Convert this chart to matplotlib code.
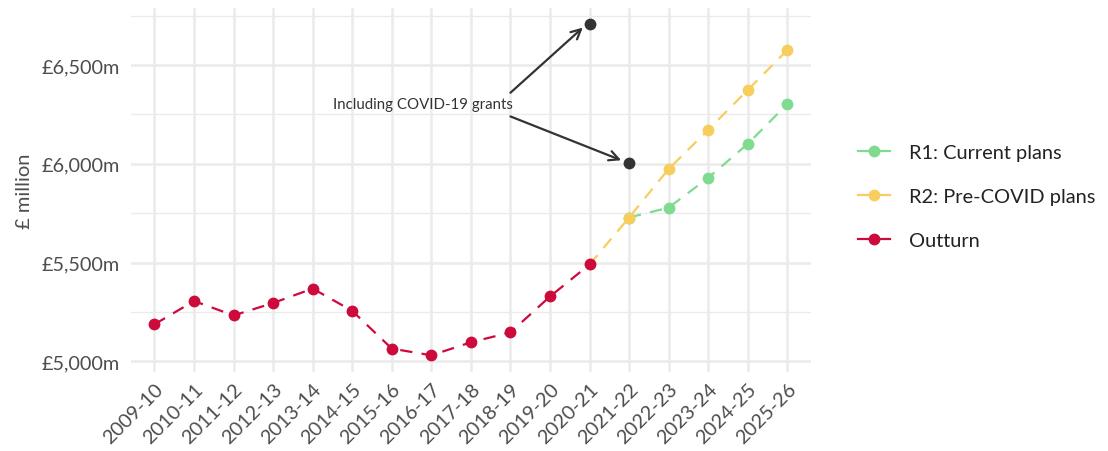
import matplotlib
matplotlib.use("Agg")
import matplotlib.pyplot as plt
from matplotlib.lines import Line2D
from matplotlib.ticker import FixedLocator

plt.rcParams['font.family'] = ['Lato', 'DejaVu Sans']

years = ["2009-10", "2010-11", "2011-12", "2012-13", "2013-14", "2014-15", "2015-16",
         "2016-17", "2017-18", "2018-19", "2019-20", "2020-21", "2021-22", "2022-23",
         "2023-24", "2024-25", "2025-26"]

outturn_years = years[:12]
outturn = [5187, 5305, 5232, 5295, 5368, 5255, 5064, 5030, 5096, 5146, 5328, 5490]

r2_years = years[11:]
r2_pre_covid = [5490, 5728, 5974, 6172, 6374, 6576]

r1_years = years[12:]
r1_current = [5728, 5778, 5929, 6101, 6303]

covid_years = ["2020-21", "2021-22"]
covid_grants = [6707, 6005]

yticks = [5000, 5500, 6000, 6500]
yticklabels = ["£5,000m", "£5,500m", "£6,000m", "£6,500m"]
yminor = [5250, 5750, 6250, 6750]

col_red = "#cc0a3c"
col_yel = "#f7cd5d"
col_grn = "#7edb8f"
col_blk = "#333333"

idx = {y: i for i, y in enumerate(years)}

fig = plt.figure(figsize=(11.08, 4.52), dpi=100)
ax = fig.add_axes([0.118, 0.175, 0.614, 0.805])

lw = 1.6
dash = (5.5, 4.2)
ms = 8.5

ax.plot([idx[y] for y in r1_years], r1_current, color=col_grn, lw=lw, dashes=dash,
        marker='o', ms=ms, mec='none', zorder=3)
ax.plot([idx[y] for y in r2_years], r2_pre_covid, color=col_yel, lw=lw, dashes=dash,
        marker='o', ms=ms, mec='none', zorder=4)
ax.plot([idx[y] for y in outturn_years], outturn, color=col_red, lw=lw, dashes=dash,
        marker='o', ms=ms, mec='none', zorder=5)
ax.plot([idx[y] for y in covid_years], covid_grants, color=col_blk, lw=0,
        marker='o', ms=ms, mec='none', zorder=6)

# annotation
tx, ty = 9.05, 6303
ax.text(tx, ty, "Including COVID-19 grants", ha='right', va='center',
        fontsize=10.8, color=col_blk)
ax.annotate("", xy=(idx["2020-21"] - 0.17, 6690), xytext=(9.0, 6360),
            arrowprops=dict(arrowstyle='->,head_length=0.7,head_width=0.35',
                            color=col_blk, lw=1.6, shrinkA=0, shrinkB=0))
ax.annotate("", xy=(idx["2021-22"] - 0.2, 6018), xytext=(9.0, 6240),
            arrowprops=dict(arrowstyle='->,head_length=0.7,head_width=0.35',
                            color=col_blk, lw=1.6, shrinkA=0, shrinkB=0))

ax.set_xlim(-0.6, 16.6)
ax.set_ylim(4946, 6789)
ax.set_xticks(range(len(years)))
ax.set_xticklabels(years, rotation=45, ha='right', rotation_mode='anchor',
                   fontsize=14.3, color='#4d4d4d')
ax.set_yticks(yticks)
ax.set_yticklabels(yticklabels, fontsize=14.3, color='#4d4d4d')
ax.yaxis.set_minor_locator(FixedLocator(yminor))
ax.tick_params(axis='both', which='both', length=0, pad=8)
ax.tick_params(axis='x', pad=6)

for s in ax.spines.values():
    s.set_visible(False)
ax.grid(True, which='major', color='#ebebeb', lw=1.8)
ax.grid(True, which='minor', axis='y', color='#ebebeb', lw=1.0)
ax.set_axisbelow(True)
ax.set_ylabel("£ million", fontsize=14.5, color='#4d4d4d', labelpad=6)

handles = [
    Line2D([], [], color=col_grn, lw=lw, marker='o', ms=ms, mec='none'),
    Line2D([], [], color=col_yel, lw=lw, marker='o', ms=ms, mec='none'),
    Line2D([], [], color=col_red, lw=lw, marker='o', ms=ms, mec='none'),
]
labels = ["R1: Current plans", "R2: Pre-COVID plans", "Outturn"]
fig.legend(handles, labels, loc='center left', bbox_to_anchor=(0.758, 0.563),
           frameon=False, fontsize=14.4, handlelength=1.6, labelspacing=1.33,
           handletextpad=0.95, labelcolor='#222222')

fig.savefig("out.png", dpi=100, facecolor='white')
